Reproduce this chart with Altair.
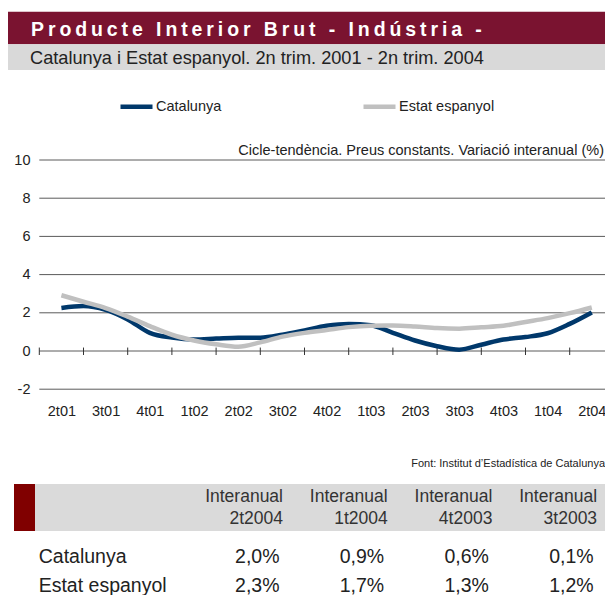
import altair as alt
import pandas as pd

FONT = "Liberation Sans, Arial, sans-serif"

# ---------------- data ----------------
quarters = ["2t01", "3t01", "4t01", "1t02", "2t02", "3t02", "4t02",
            "1t03", "2t03", "3t03", "4t03", "1t04", "2t04"]
# values read every half quarter (25 points, 2t01 ... 2t04)
catalunya = [2.25, 2.35, 2.15, 1.65, 0.95, 0.70, 0.60, 0.65, 0.70, 0.70, 0.85, 1.08, 1.32,
             1.42, 1.35, 0.95, 0.55, 0.25, 0.07, 0.33, 0.60, 0.73, 0.93, 1.42, 2.02]
estat = [2.92, 2.58, 2.25, 1.80, 1.30, 0.85, 0.55, 0.35, 0.22, 0.45, 0.75, 0.95, 1.10,
         1.25, 1.32, 1.33, 1.28, 1.20, 1.17, 1.24, 1.32, 1.52, 1.72, 1.98, 2.28]
series_names = ["Catalunya", "Estat espanyol"]
series_colors = ["#00386B", "#C0C0C0"]
y_ticks = [-2, 0, 2, 4, 6, 8, 10]

table_periods = ["2t2004", "1t2004", "4t2003", "3t2003"]
table_catalunya = [2.0, 0.9, 0.6, 0.1]
table_estat = [2.3, 1.7, 1.3, 1.2]

title_text = "Producte Interior Brut - Indústria -"
subtitle_text = "Catalunya i Estat espanyol. 2n trim. 2001 - 2n trim. 2004"
unit_text = "Cicle-tendència. Preus constants. Variació interanual (%)"
source_text = "Font: Institut d\u2019Estadística de Catalunya"

W, H = 597, 587

# ---------------- tables for the library ----------------
rows = []
for name, vals in zip(series_names, [catalunya, estat]):
    for j, v in enumerate(vals):
        rows.append({"pos": j / 2, "value": v, "series": name})
line_df = pd.DataFrame(rows)

grid_df = pd.DataFrame({"y": y_ticks, "x0": -0.5, "x1": len(quarters) - 0.5})
tick_df = pd.DataFrame({"x": [i - 0.5 for i in range(len(quarters) + 1)], "ya": 0.18, "yb": -0.21})

head_rows = []
for i, p in enumerate(table_periods):
    head_rows.append({"col": i, "line": "l1", "text": "Interanual"})
    head_rows.append({"col": i, "line": "l2", "text": p})
head_df = pd.DataFrame(head_rows)

val_rows = []
for name, vals in zip(series_names, [table_catalunya, table_estat]):
    for i, v in enumerate(vals):
        val_rows.append({"col": i, "row": name, "text": f"{v:.1f}".replace(".", ",") + "%"})
val_df = pd.DataFrame(val_rows)
rowlab_df = pd.DataFrame({"row": series_names})

one = pd.DataFrame({"a": [0]})

# ---------------- scales ----------------
xs = alt.Scale(domain=[-0.5, len(quarters) - 0.5], range=[31.3, 31.3 + 13 * 44.2], nice=False, zero=False)
ys = alt.Scale(domain=[-2, 10], range=[381.2, 152], nice=False, zero=False)

label_arr = "[" + ",".join("'" + q + "'" for q in quarters) + "]"

# ---------------- layers ----------------
title_bar = alt.Chart(one).mark_rect(color="#7A1330").encode(
    x=alt.value(0), x2=alt.value(W), y=alt.value(3.7), y2=alt.value(36.3))
sub_bar = alt.Chart(one).mark_rect(color="#D9D9D9").encode(
    x=alt.value(0), x2=alt.value(W), y=alt.value(36.3), y2=alt.value(62))
title = alt.Chart(one).mark_text(
    text="\u2009".join(title_text), font=FONT, fontSize=19.5, fontWeight="bold",
    color="white", align="left", baseline="alphabetic").encode(x=alt.value(23), y=alt.value(28))
subtitle = alt.Chart(one).mark_text(
    text=subtitle_text, font=FONT, fontSize=18.2, color="#222222",
    align="left", baseline="alphabetic").encode(x=alt.value(22), y=alt.value(56.3))
unit = alt.Chart(one).mark_text(
    text=unit_text, font=FONT, fontSize=14.5, color="#222222",
    align="right", baseline="alphabetic").encode(x=alt.value(W - 1), y=alt.value(147))
source = alt.Chart(one).mark_text(
    text=source_text, font=FONT, fontSize=11, color="#222222",
    align="right", baseline="alphabetic").encode(x=alt.value(W), y=alt.value(459))

grid = alt.Chart(grid_df).mark_rule(color="#5A5A5A", strokeWidth=1).encode(
    x=alt.X("x0:Q", scale=xs, axis=None), x2="x1:Q",
    y=alt.Y("y:Q", scale=ys, axis=None))
ticks = alt.Chart(tick_df).mark_rule(color="#333333", strokeWidth=1).encode(
    x=alt.X("x:Q", scale=xs, axis=None),
    y=alt.Y("ya:Q", scale=ys, axis=None), y2="yb:Q")

lines = alt.Chart(line_df).mark_line(strokeWidth=4.5, interpolate="monotone").encode(
    x=alt.X("pos:Q", scale=xs, axis=alt.Axis(
        values=list(range(len(quarters))), labelExpr=label_arr + "[datum.value]",
        grid=False, domain=False, ticks=False, tickSize=0, labelPadding=0, offset=-191,
        labelFont=FONT, labelFontSize=14.5, labelColor="#222222", labelOverlap=False,
        labelFlush=False, labelBaseline="top", labelAlign="center", title=None)),
    y=alt.Y("value:Q", scale=ys, axis=alt.Axis(
        values=y_ticks, labelExpr="'' + datum.value",
        grid=False, domain=False, ticks=False, tickSize=0, labelPadding=0, offset=-22,
        labelFont=FONT, labelFontSize=14.5, labelColor="#222222", labelOverlap=False,
        labelFlush=False, title=None)),
    color=alt.Color("series:N", scale=alt.Scale(domain=series_names, range=series_colors),
                    legend=alt.Legend(orient="none", legendX=110, legendY=80,
                                      direction="horizontal", title=None,
                                      symbolType="stroke", symbolSize=1024,
                                      symbolStrokeWidth=4.5, labelFont=FONT,
                                      labelFontSize=14.5, labelColor="#222222",
                                      labelOffset=1, columnPadding=132, padding=0)),
    order=alt.Order("series:N"),
)

tab_red = alt.Chart(one).mark_rect(color="#800000").encode(
    x=alt.value(6), x2=alt.value(27), y=alt.value(476), y2=alt.value(523))
tab_gray = alt.Chart(one).mark_rect(color="#DADADA").encode(
    x=alt.value(27), x2=alt.value(W), y=alt.value(476), y2=alt.value(523))

heads = alt.Chart(head_df).mark_text(
    font=FONT, fontSize=17.5, color="#333333", align="right", baseline="alphabetic").encode(
    x=alt.X("col:Q", scale=alt.Scale(domain=[0, 3], range=[275, 589.1], nice=False, zero=False), axis=None),
    y=alt.Y("line:N", scale=alt.Scale(type="point", domain=["l1", "l2"], range=[494.3, 516.3], padding=0), axis=None),
    text="text:N")
vals = alt.Chart(val_df).mark_text(
    font=FONT, fontSize=19.5, color="#222222", align="right", baseline="alphabetic").encode(
    x=alt.X("col:Q", scale=alt.Scale(domain=[0, 3], range=[271.5, 585.6], nice=False, zero=False), axis=None),
    y=alt.Y("row:N", scale=alt.Scale(type="point", domain=series_names, range=[555.3, 583.7], padding=0), axis=None),
    text="text:N")
rowlabs = alt.Chart(rowlab_df).mark_text(
    font=FONT, fontSize=19.5, color="#222222", align="left", baseline="alphabetic").encode(
    x=alt.value(30.7),
    y=alt.Y("row:N", scale=alt.Scale(type="point", domain=series_names, range=[555.3, 583.7], padding=0), axis=None),
    text="row:N")

chart = alt.layer(
    title_bar, sub_bar, title, subtitle, unit, source,
    grid, ticks, lines, tab_red, tab_gray, heads, vals, rowlabs
).resolve_scale(x="independent", y="independent").properties(
    width=W, height=H, padding=0, autosize=alt.AutoSizeParams(type="none")
).configure_view(stroke=None)

chart.save("out.html", embed_options={"renderer": "svg", "actions": False})
